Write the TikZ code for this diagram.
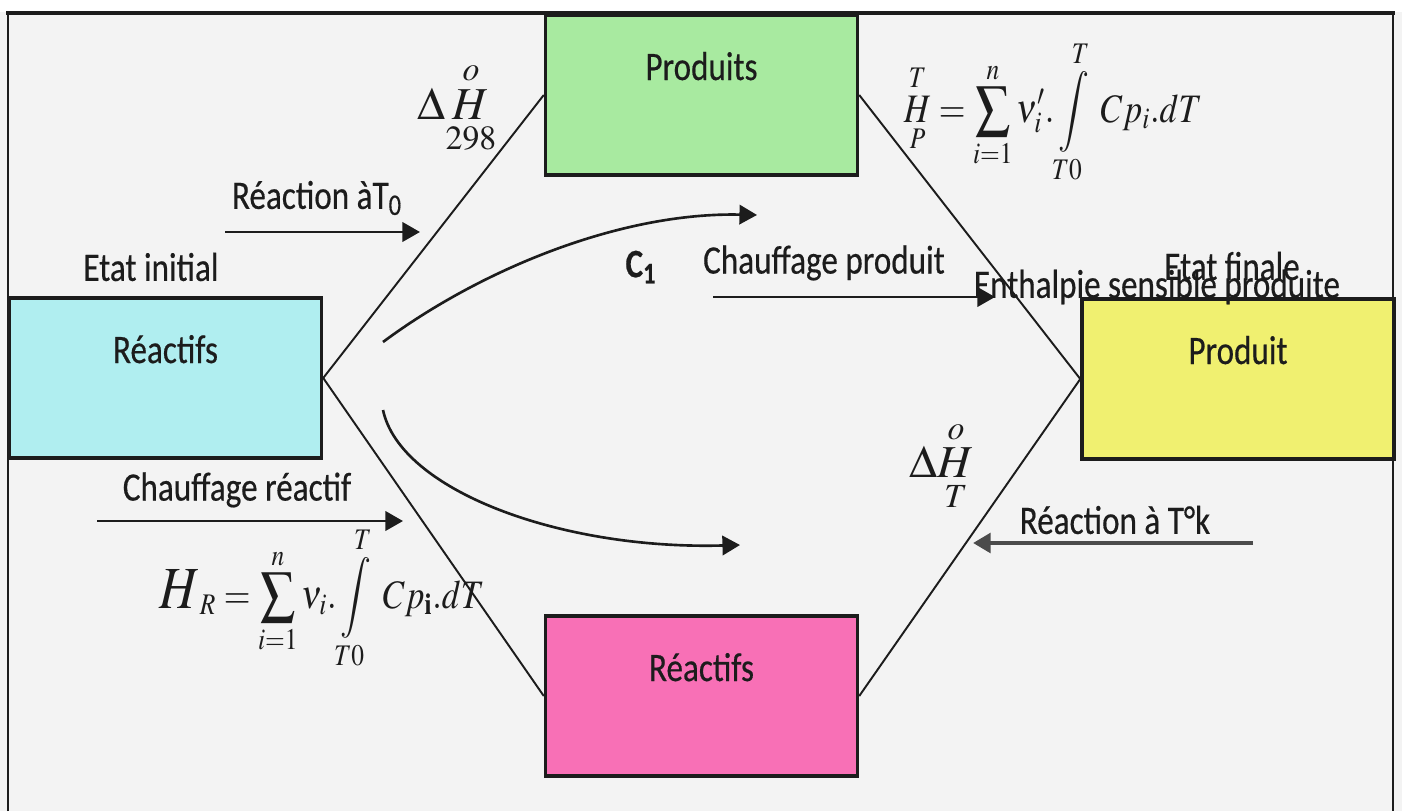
\documentclass[tikz,border=0pt]{standalone}
\usepackage{amsmath}
\usepackage{graphicx}
\usepackage{mathptmx}
\usepackage[no-math]{fontspec}
\setmainfont{Carlito}[FakeStretch=0.82,FakeBold=0.4]
\usetikzlibrary{arrows.meta}
\definecolor{bgcol}{RGB}{243,243,243}
\definecolor{inkcol}{RGB}{28,28,28}
\definecolor{reaccol}{RGB}{176,238,240}
\definecolor{prodscol}{RGB}{168,234,160}
\definecolor{prodcol}{RGB}{240,240,112}
\definecolor{reacscol}{RGB}{248,112,182}
\definecolor{tkcol}{RGB}{75,75,75}
\newcommand{\narrow}[1]{\scalebox{0.85}[1]{#1}}
\begin{document}
\begin{tikzpicture}[x=0.02cm,y=-0.02cm,
    txt/.style={font=\fontsize{23}{27}\selectfont,text=inkcol,inner sep=0pt},
    eqn/.style={font=\fontsize{23}{27}\selectfont,text=inkcol,inner sep=0pt},
    box/.style={txt,draw=inkcol,line width=2pt,minimum width=6.24cm,
      text height=1.3cm,text depth=1.9cm},
    link/.style={inkcol,line width=1.1pt},
    flow/.style={inkcol,line width=1.5pt,-{Triangle[length=10pt,width=11pt]}}]
  \useasboundingbox (0,0) rectangle (1402,811);
  \fill[bgcol] (0,0) rectangle (1402,811);
  \fill[white] (0,0) rectangle (1402,12);
  % frame
  \draw[inkcol,line width=1.6pt] (8,811) -- (8,13);
  \draw[inkcol,line width=1.6pt] (1393,13) -- (1393,811);
  % boxes
  \node[box,fill=reaccol] (reac) at (165.5,378) {Réactifs};
  \node[box,fill=prodscol] (prods) at (701.5,95) {Produits};
  \node[box,fill=prodcol] (prod) at (1238,379) {Produit};
  \node[box,fill=reacscol] (reacs) at (701.5,696) {Réactifs};
  \draw[inkcol,line width=2.4pt] (6,13) -- (1395,13);
  % cycle
  \draw[link] (reac.east) -- (prods.west);
  \draw[link] (reac.east) -- (reacs.west);
  \draw[link] (prods.east) -- (prod.west);
  \draw[link] (reacs.east) -- (prod.west);
  % paths
  \coordinate (c1s) at (383,342);
  \coordinate (c1e) at (757,215);
  \coordinate (c2s) at (383,410);
  \coordinate (c2e) at (740,545);
  \draw[flow] (c1s) .. controls (480,270) and (620,212) .. (c1e);
  \draw[flow] (c2s) .. controls (400,490) and (560,550) .. (c2e);
  % arrows
  \coordinate (rt0s) at (225,232);
  \coordinate (rt0e) at (420,232);
  \coordinate (chps) at (713,297);
  \coordinate (chpe) at (995,297);
  \coordinate (chrs) at (97,521);
  \coordinate (chre) at (403,521);
  \coordinate (rtks) at (1253,543);
  \coordinate (rtke) at (973,543);
  \draw[flow] (rt0s) -- (rt0e);
  \draw[flow] (chps) -- (chpe);
  \draw[flow] (chrs) -- (chre);
  \draw[flow,tkcol,line width=2.8pt] (rtks) -- (rtke);
  % labels
  \node[txt] (init) at (151,267) {Etat initial};
  \node[txt] (rt0) at (317,198) {Réaction àT\textsubscript{0}};
  \node[txt,font=\fontsize{23}{27}\bfseries] (c1) at (641,267) {C\textsubscript{1}};
  \node[txt] (chp) at (824,263) {Chauffage produit};
  \node[txt] (fin) at (1232,266) {Etat finale};
  \node[txt] (ens) at (1157,287) {Enthalpie sensible produite};
  \node[txt] (chr) at (237,490) {Chauffage réactif};
  \node[txt] (rtk) at (1115,520) {Réaction à T°k};
  % formulas
  \node[eqn,font=\fontsize{26}{30}\selectfont] (dh298) at (457,108)
    {$\Delta\overset{o}{\underset{298}{H}}$};
  \node[eqn,font=\fontsize{26}{30}\selectfont] (dht) at (942,466)
    {$\Delta\overset{o}{\underset{T}{H}}$};
  \node[eqn] (hp) at (1053,112)
    {\narrow{$\displaystyle\overset{T}{\underset{P}{H}}=\sum_{i=1}^{n}\nu'_i.\int\limits_{T0}^{T}\;Cp_i.dT$}};
  \node[eqn] (hr) at (322,598)
    {\narrow{$\displaystyle\mbox{\fontsize{34}{38}\selectfont$H$}_R=\sum_{i=1}^{n}\nu_i.\int\limits_{T0}^{T}\;Cp_{\mathbf{i}}.dT$}};
\end{tikzpicture}
\end{document}
